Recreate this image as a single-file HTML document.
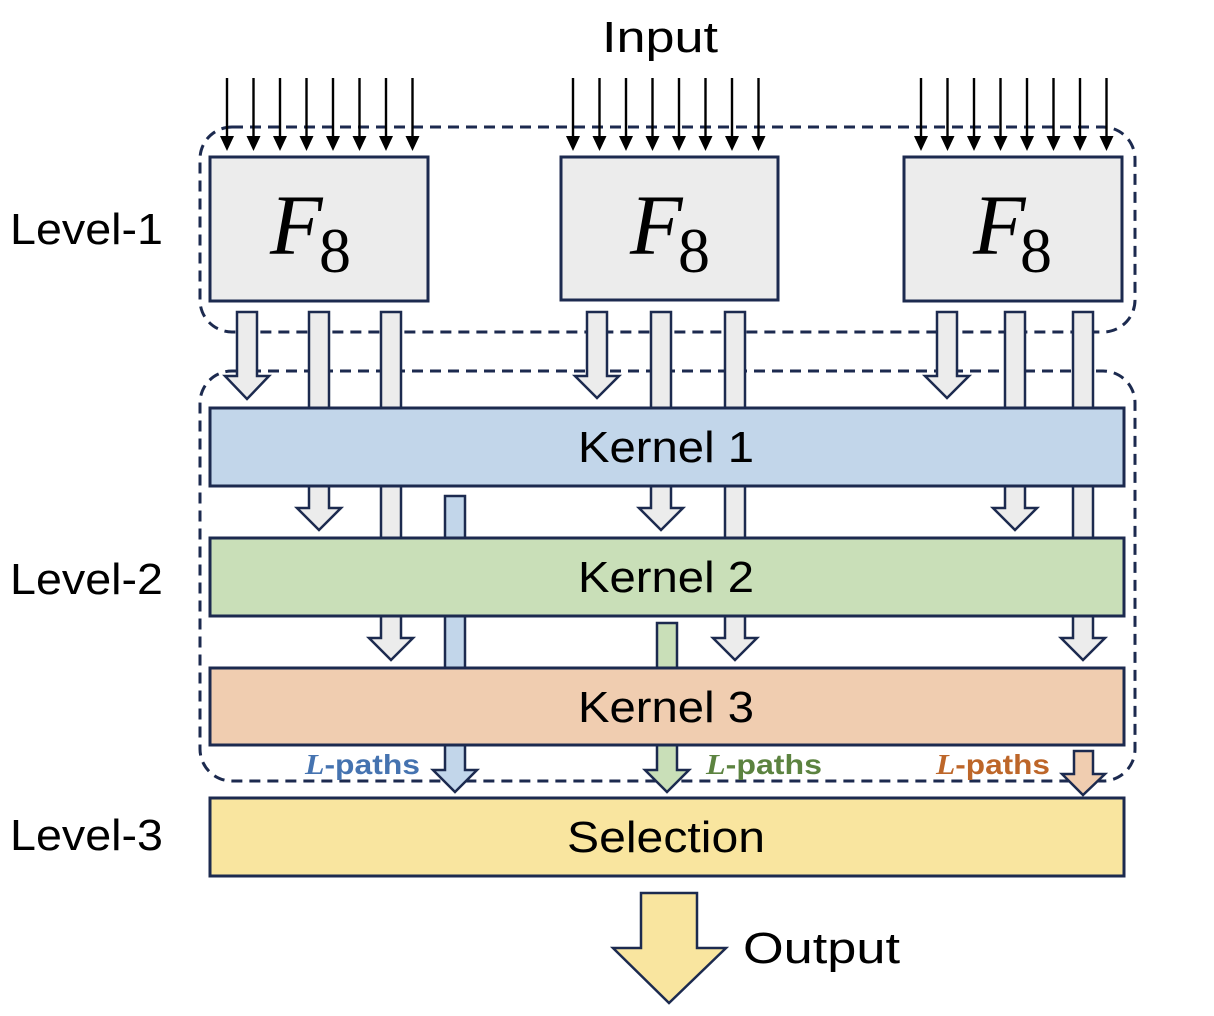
<!DOCTYPE html>
<html><head><meta charset="utf-8"><style>html,body{margin:0;padding:0;background:#fff}svg{display:block}</style></head>
<body>
<svg width="1214" height="1016" viewBox="0 0 1214 1016" xmlns="http://www.w3.org/2000/svg" font-family="Liberation Sans, sans-serif">
<!-- dashed groups -->
<rect x="200" y="127" width="935" height="205" rx="32" fill="none" stroke="#1c2a4f" stroke-width="3" stroke-dasharray="11,7"/>
<rect x="200" y="371" width="935" height="410" rx="32" fill="none" stroke="#1c2a4f" stroke-width="3" stroke-dasharray="11,7"/>

<!-- input arrows -->
<g stroke="#000" stroke-width="2.4" fill="#000">
<g id="ia">
<line x1="227" y1="78" x2="227" y2="138"/><path d="M220,136 L234,136 L227,151 Z" stroke="none"/>
<line x1="253.5" y1="78" x2="253.5" y2="138"/><path d="M246.5,136 L260.5,136 L253.5,151 Z" stroke="none"/>
<line x1="280" y1="78" x2="280" y2="138"/><path d="M273,136 L287,136 L280,151 Z" stroke="none"/>
<line x1="306.5" y1="78" x2="306.5" y2="138"/><path d="M299.5,136 L313.5,136 L306.5,151 Z" stroke="none"/>
<line x1="333" y1="78" x2="333" y2="138"/><path d="M326,136 L340,136 L333,151 Z" stroke="none"/>
<line x1="359.5" y1="78" x2="359.5" y2="138"/><path d="M352.5,136 L366.5,136 L359.5,151 Z" stroke="none"/>
<line x1="386" y1="78" x2="386" y2="138"/><path d="M379,136 L393,136 L386,151 Z" stroke="none"/>
<line x1="412.5" y1="78" x2="412.5" y2="138"/><path d="M405.5,136 L419.5,136 L412.5,151 Z" stroke="none"/>
</g>
<use href="#ia" transform="translate(346,0)"/>
<use href="#ia" transform="translate(694,0)"/>
</g>

<!-- block arrows (behind boxes) -->
<g stroke="#1c2a4f" stroke-width="2.5" fill="#ececec" stroke-linejoin="miter">
<path d="M237,312 L257,312 L257,376 L269,376 L247,399 L225,376 L237,376 Z"/>
<path d="M309,312 L329,312 L329,508 L341,508 L319,530 L297,508 L309,508 Z"/>
<path d="M381,312 L401,312 L401,638 L413,638 L391,660 L369,638 L381,638 Z"/>
<path d="M587,312 L607,312 L607,376 L619,376 L597,398 L575,376 L587,376 Z"/>
<path d="M651,312 L671,312 L671,508 L683,508 L661,530 L639,508 L651,508 Z"/>
<path d="M725,312 L745,312 L745,638 L757,638 L735,660 L713,638 L725,638 Z"/>
<path d="M937,312 L957,312 L957,376 L969,376 L947,398 L925,376 L937,376 Z"/>
<path d="M1005,312 L1025,312 L1025,508 L1037,508 L1015,530 L993,508 L1005,508 Z"/>
<path d="M1073,312 L1093,312 L1093,638 L1105,638 L1083,660 L1061,638 L1073,638 Z"/>
<path d="M445,496 L465,496 L465,770 L477,770 L455,792 L433,770 L445,770 Z" fill="#c2d6ea"/>
<path d="M657,623 L677,623 L677,770 L689,770 L667,792 L645,770 L657,770 Z" fill="#c9dfb8"/>
<path d="M1074,751 L1093,751 L1093,774 L1105,774 L1083,795 L1062,774 L1074,774 Z" fill="#f0cdb0"/>
</g>

<!-- F8 boxes -->
<g stroke="#1c2a4f" stroke-width="3" fill="#ececec">
<rect x="210" y="157" width="218" height="144"/>
<rect x="561" y="157" width="217" height="143"/>
<rect x="904" y="157" width="218" height="144"/>
</g>
<g font-family="Liberation Serif, serif" fill="#000">
<text x="270" y="254" font-size="86" font-style="italic">F</text><text x="319" y="272" font-size="64">8</text>
<text x="630" y="254" font-size="86" font-style="italic">F</text><text x="678" y="272" font-size="64">8</text>
<text x="973" y="254" font-size="86" font-style="italic">F</text><text x="1020" y="272" font-size="64">8</text>
</g>

<!-- kernels -->
<g stroke="#1c2a4f" stroke-width="3">
<rect x="210" y="408" width="914" height="78" fill="#c2d6ea"/>
<rect x="210" y="538" width="914" height="78" fill="#c9dfb8"/>
<rect x="210" y="668" width="914" height="77" fill="#f0cdb0"/>
<rect x="210" y="798" width="914" height="78" fill="#f9e59f"/>
</g>
<g font-size="44" fill="#000">
<text x="578" y="462" textLength="176" lengthAdjust="spacingAndGlyphs">Kernel 1</text>
<text x="578" y="592" textLength="176" lengthAdjust="spacingAndGlyphs">Kernel 2</text>
<text x="578" y="722" textLength="176" lengthAdjust="spacingAndGlyphs">Kernel 3</text>
<text x="567" y="852" textLength="198" lengthAdjust="spacingAndGlyphs">Selection</text>
<text x="602" y="52" textLength="116" lengthAdjust="spacingAndGlyphs">Input</text>
<text x="10" y="244" textLength="153" lengthAdjust="spacingAndGlyphs">Level-1</text>
<text x="10" y="594" textLength="153" lengthAdjust="spacingAndGlyphs">Level-2</text>
<text x="10" y="850" textLength="153" lengthAdjust="spacingAndGlyphs">Level-3</text>
<text x="743" y="963" textLength="157" lengthAdjust="spacingAndGlyphs">Output</text>
</g>

<!-- L-paths -->
<g font-size="28" font-weight="bold">
<text x="305" y="774" fill="#4573b0" textLength="115" lengthAdjust="spacingAndGlyphs"><tspan font-family="Liberation Serif, serif" font-style="italic">L</tspan>-paths</text>
<text x="706" y="774" fill="#5c8340" textLength="116" lengthAdjust="spacingAndGlyphs"><tspan font-family="Liberation Serif, serif" font-style="italic">L</tspan>-paths</text>
<text x="936" y="774" fill="#bd6629" textLength="114" lengthAdjust="spacingAndGlyphs"><tspan font-family="Liberation Serif, serif" font-style="italic">L</tspan>-paths</text>
</g>

<!-- output arrow -->
<path d="M641,893 L697,893 L697,948 L726,948 L669,1003 L613,948 L641,948 Z" fill="#f9e59f" stroke="#1c2a4f" stroke-width="2.5"/>
</svg>
</body></html>
